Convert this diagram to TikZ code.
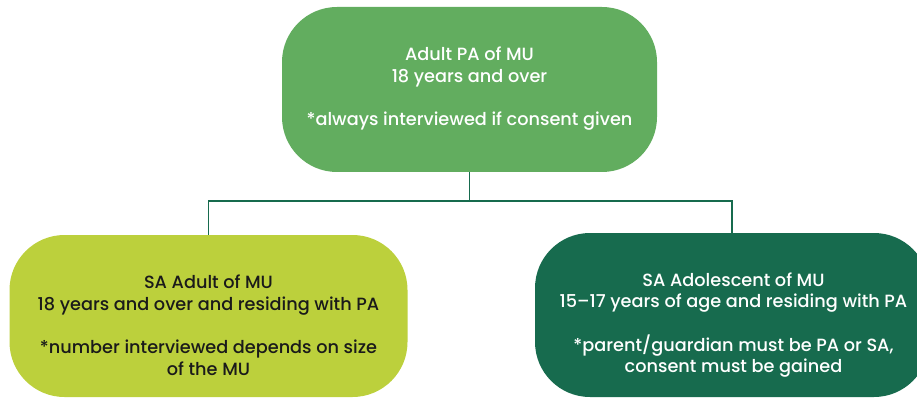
\documentclass[tikz,border=0pt]{standalone}
\usepackage{fontspec}
\setmainfont{Poppins}[UprightFont=* Medium]
\definecolor{topgreen}{HTML}{62AD5F}
\definecolor{limegreen}{HTML}{BCD03C}
\definecolor{darkgreen}{HTML}{176B4E}
\definecolor{inkdark}{HTML}{1A1A1A}
\begin{document}
\begin{tikzpicture}[x=1pt,y=-1pt,
  box/.style={rounded corners=55pt, inner sep=0pt},
  label text/.style={inner sep=0pt, align=center,
    font=\fontsize{17.7}{21.7}\selectfont},
  conn/.style={draw=darkgreen, line width=1.6pt}]
\useasboundingbox (0,0) rectangle (917,398);
\clip (0,0) rectangle (917,398);
% boxes
\node[box, fill=topgreen, minimum width=375pt, minimum height=165pt] (top) at (469.5,89.5) {};
\node[box, fill=limegreen, minimum width=398pt, minimum height=162pt] (sadult) at (208.5,316) {};
\node[box, fill=darkgreen, minimum width=394pt, minimum height=164pt] (sadol) at (732,315) {};
% texts
\node[label text, text=white] (toptext) at (469.5,89)
  {Adult PA of MU\\18 years and over\\[21.7pt]*always interviewed if consent given};
\node[label text, text=inkdark] (sadulttext) at (208.5,325)
  {SA Adult of MU\\18 years and over and residing with PA\\[21.7pt]*number interviewed depends on size\\of the MU};
\node[label text, text=white] (sadoltext) at (733.5,325)
  {SA Adolescent of MU\\15–17 years of age and residing with PA\\[21.7pt]*parent/guardian must be PA or SA,\\consent must be gained};
% connectors
\draw[conn] (top.south) -- ++(0,29) coordinate (fork);
\draw[conn] (sadult.north) |- (fork) -| (sadol.north);
\end{tikzpicture}
\end{document}
